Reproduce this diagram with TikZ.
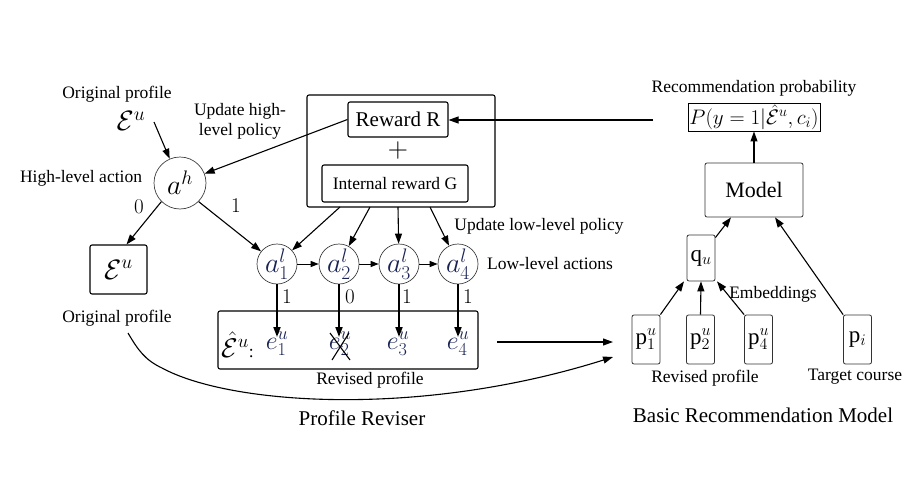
\RequirePackage{fix-cm}
\documentclass[tikz,border=0pt]{standalone}
\usepackage{fontspec}
\setmainfont{Liberation Serif}
\usetikzlibrary{arrows.meta,calc}
\definecolor{mnavy}{RGB}{25,35,85}
\begin{document}
\begin{tikzpicture}[x=1pt,y=-1pt,
  arr/.style={-{Triangle[length=10pt,width=7pt]}, line width=1.1pt},
  sarr/.style={-{Triangle[length=8pt,width=6pt]}, line width=1pt},
  tarr/.style={-{Triangle[length=10pt,width=7pt]}, line width=1.8pt},
  txt/.style={font=\fontsize{17.5}{20}\selectfont, inner sep=0pt},
  captxt/.style={font=\fontsize{21}{24}\selectfont, inner sep=0pt},
  circ/.style={circle, draw=black!75, line width=0.7pt, minimum size=40pt, inner sep=0pt, font=\fontsize{28}{30}\selectfont, text=mnavy},
  box/.style={draw, line width=1.1pt, rounded corners=2pt, inner sep=0pt},
  gbox/.style={draw=black!80, line width=0.8pt, rounded corners=2pt, inner sep=0pt, font=\fontsize{23}{26}\selectfont},
  lbl/.style={font=\fontsize{21}{24}\selectfont, inner sep=0pt},
  mth/.style={font=\fontsize{28}{30}\selectfont, inner sep=0pt},
]
\useasboundingbox (0,0) rectangle (916,479);

% ---------- left: high-level ----------
\node[txt] (op1) at (117,94) {Original profile};
\node[mth] (eu1) at (131,121) {$\mathcal{E}^u$};
\coordinate (eu1s) at (154,122);
\node[txt, align=center] (uhl) at (240,121) {Update high-\\level policy};
\node[txt] (hla) at (81,178) {High-level action};
\node[circ, minimum size=52pt, text=black] (ah) at (180,183) {$a^h$};
\node[lbl] (h0) at (139,207) {$0$};
\node[lbl] (h1) at (236,206) {$1$};
\node[box, minimum width=57pt, minimum height=49pt, font=\fontsize{28}{30}\selectfont] (eub) at (118.5,269.5) {$\mathcal{E}^u$};
\node[txt] (op2) at (117,318) {Original profile};
\coordinate (cs) at (128,333);
\coordinate (cm) at (162,368);

% ---------- reward box ----------
\node[box, minimum width=188pt, minimum height=112pt] (rbox) at (401,151) {};
\node[box, minimum width=100pt, minimum height=35pt, font=\fontsize{21}{24}\selectfont] (rr) at (398,119.5) {Reward R};
\node[mth] (plus) at (398,150) {$+$};
\node[box, minimum width=146pt, minimum height=37pt, font=\fontsize{17.5}{20}\selectfont] (ig) at (395,183.5) {Internal reward G};
\coordinate (r1) at (340,207);
\coordinate (r2) at (370,207);
\coordinate (r3) at (398,207);
\coordinate (r4) at (430,207);

% ---------- low-level actions ----------
\node[circ] (a1) at (277,264) {$a^l_1$};
\node[circ] (a2) at (339,264) {$a^l_2$};
\node[circ] (a3) at (399,264) {$a^l_3$};
\node[circ] (a4) at (458,264) {$a^l_4$};
\node[txt] (ull) at (539,226) {Update low-level policy};
\node[txt] (lla) at (550,264) {Low-level actions};
\node[lbl] (l1) at (287,297) {$1$};
\node[lbl] (l2) at (350,297) {$0$};
\node[lbl] (l3) at (407,297) {$1$};
\node[lbl] (l4) at (468,297) {$1$};
\coordinate (tipy) at (0,337);

% ---------- revised profile ----------
\node[box, minimum width=260pt, minimum height=58pt] (rev) at (348,340) {};
\node[anchor=west, inner sep=0pt, font=\fontsize{27}{30}\selectfont] (ehat) at (221,345) {$\hat{\mathcal{E}}^u$\fontsize{17.5}{20}\selectfont:};
\node[mth, font=\fontsize{26}{28}\selectfont, text=mnavy] (e1) at (277,344) {$e^u_1$};
\node[mth, font=\fontsize{26}{28}\selectfont, text=mnavy] (e2) at (340,344) {$e^u_2$};
\node[mth, font=\fontsize{26}{28}\selectfont, text=mnavy] (e3) at (398,344) {$e^u_3$};
\node[mth, font=\fontsize{26}{28}\selectfont, text=mnavy] (e4) at (458,344) {$e^u_4$};
\draw[line width=1.1pt] ([shift={(-10,-11)}]e2.center) -- ([shift={(10,16)}]e2.center);
\draw[line width=1.1pt] ([shift={(9,-11)}]e2.center) -- ([shift={(-8,16)}]e2.center);
\node[txt] (rp1) at (370,380) {Revised profile};
\node[captxt] (prv) at (362,418) {Profile Reviser};
\coordinate (hs) at (497,342);
\coordinate (he) at (613,342);
\coordinate (ce) at (613,357);

% ---------- right: recommendation model ----------
\node[gbox, minimum width=28pt, minimum height=49pt] (p1) at (646,339.5) {$\mathrm{p}^u_1$};
\node[gbox, minimum width=28pt, minimum height=49pt] (p2) at (700.5,339.5) {$\mathrm{p}^u_2$};
\node[gbox, minimum width=28pt, minimum height=49pt] (p4) at (758.5,339.5) {$\mathrm{p}^u_4$};
\node[gbox, minimum width=28pt, minimum height=49pt] (pi) at (857.5,339.5) {$\mathrm{p}_i$};
\node[gbox, minimum width=28pt, minimum height=46pt] (qu) at (701,258) {$\mathrm{q}_u$};
\node[gbox, minimum width=98pt, minimum height=54pt, font=\fontsize{22}{24}\selectfont] (model) at (754,190) {Model};
\node[draw, line width=0.9pt, minimum width=132pt, minimum height=28pt, inner sep=0.5pt, font=\fontsize{21}{24}\selectfont] (prob) at (754,117) {$P(y=1|\hat{\mathcal{E}}^u,c_i)$};
\node[txt] (rpt) at (754,88) {Recommendation probability};
\node[txt] (emb) at (773,294) {Embeddings};
\node[txt] (rp2) at (705,378) {Revised profile};
\node[txt] (tc) at (855,377) {Target course};
\node[captxt] (brm) at (763,415) {Basic Recommendation Model};
\coordinate (pl) at (653,120);

% ---------- connectors ----------
\draw[arr] (eu1s) -- (ah);
\draw[arr] (rr.west) -- (ah);
\draw[arr] (ah.south west) -- ([xshift=8pt]eub.north);
\draw[arr] (ah.south east) -- (a1);
\draw[arr] (r1) -- (a1);
\draw[arr] (r2) -- (a2);
\draw[arr] (r3) -- (a3);
\draw[arr] (r4) -- (a4);
\draw[sarr] (a1) -- (a2);
\draw[sarr] (a2) -- (a3);
\draw[sarr] (a3) -- (a4);
\draw[tarr] (a1) -- (a1 |- tipy);
\draw[tarr] (a2) -- (a2 |- tipy);
\draw[tarr] (a3) -- (a3 |- tipy);
\draw[tarr] (a4) -- (a4 |- tipy);
\draw[arr] (hs) -- (he);
\draw[arr] (cs) .. controls (138,350) and (145,360) .. (cm) .. controls (230,405) and (420,418) .. (ce);
\draw[arr] (pl) -- (rr.east |- pl);
\draw[arr] (model.north) -- (prob.south);
\draw[arr] ([yshift=-3pt]qu.north east) -- ([xshift=-23pt]model.south);
\draw[arr] (pi.north west) -- ([xshift=21pt]model.south);
\draw[arr] (p1.north east) -- ([xshift=-17pt]qu.south);
\draw[arr] (p2.north) -- (qu.south);
\draw[arr] (p4.north west) -- ([xshift=16pt]qu.south);
\end{tikzpicture}
\end{document}
